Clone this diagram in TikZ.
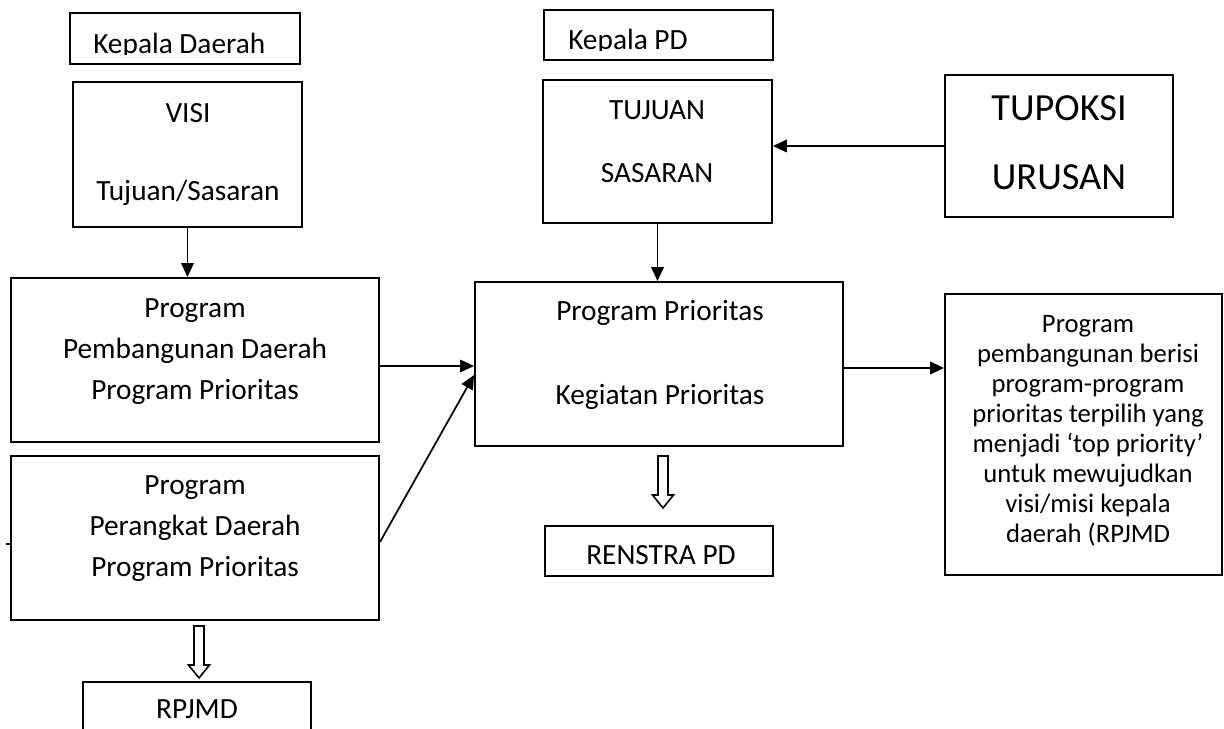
\documentclass[tikz,border=0pt]{standalone}
\usepackage{fontspec}
\setmainfont{Carlito}
\usetikzlibrary{arrows.meta,fit}
\newcommand{\stackl}[2]{\vtop{\baselineskip=#1\lineskiplimit=-100pt\lineskip=0pt\halign{\hfil##\hfil\cr#2\crcr}}}
\begin{document}
\begin{tikzpicture}[x=0.75pt,y=-0.75pt]
\tikzset{
 box/.style={draw=black, line width=1.45pt, inner sep=0pt, rectangle},
 lbl/.style={inner sep=0pt, anchor=base, font=\fontsize{22}{26}\selectfont},
 arr/.style={-{Triangle[length=10.5pt,width=9.5pt]}, line width=1.3pt},
 hollow/.style={draw=black, line width=1.2pt, fill=white, line join=miter},
}
\useasboundingbox (0,0) rectangle (1224,728);
\clip (0,0) rectangle (1224,728);
% boxes
\node[box, fit={(70,13) (300,64)}] (kd) {};
\node[box, fit={(73,82) (302,227)}] (visi) {};
\node[box, fit={(11,278) (379,442)}] (ppd) {};
\node[box, fit={(11,456) (379,620)}] (ppk) {};
\node[box, fit={(83,682) (311,760)}] (rpjmd) {};
\node[box, fit={(544,10) (773,60)}] (kpd) {};
\node[box, fit={(543,80) (772,223)}] (tuj) {};
\node[box, fit={(945,75) (1173,217)}] (tup) {};
\node[box, fit={(475,282) (843,446)}] (mid) {};
\node[box, fit={(545,526) (773,576)}] (ren) {};
\node[box, fit={(945,294) (1222,575)}] (rgt) {};
% texts
\begin{scope}
\clip (60,0) rectangle (310,54);
\node[lbl, anchor=base west] (kdt) at (93,53) {Kepala Daerah};
\end{scope}
\begin{scope}
\clip (540,0) rectangle (780,50);
\node[lbl, anchor=base west] (kpdt) at (568,49) {Kepala PD};
\end{scope}
\node[lbl] (visit) at (188,122) {\stackl{58.5pt}{VISI\cr Tujuan/Sasaran}};
\node[lbl] (ppdt) at (195,317) {\stackl{31.1pt}{Program\cr Pembangunan Daerah\cr Program Prioritas}};
\node[lbl] (ppkt) at (195,494) {\stackl{31.1pt}{Program\cr Perangkat Daerah\cr Program Prioritas}};
\node[lbl] (rpjmdt) at (197,718) {RPJMD};
\node[lbl] (tujt) at (657,119) {\stackl{47.25pt}{TUJUAN\cr SASARAN}};
\node[lbl, font=\fontsize{28.75}{34}\selectfont] (tupt) at (1059,120) {\stackl{51.75pt}{TUPOKSI\cr URUSAN}};
\node[lbl] (midt) at (660,320) {\stackl{63pt}{Program Prioritas\cr Kegiatan Prioritas}};
\node[lbl] (rent) at (661,564) {RENSTRA PD};
\node[lbl, font=\fontsize{20}{22.5}\selectfont] (rgtt) at (1088,332) {\stackl{22.5pt}{Program\cr pembangunan berisi\cr program-program\cr prioritas terpilih yang\cr menjadi ‘top priority’\cr untuk mewujudkan\cr visi/misi kepala\cr daerah (RPJMD}};
% connectors
\draw[arr] (visi.south) -- (visi.south |- ppd.north);
\draw[arr] (tuj.south) -- (tuj.south |- mid.north);
\draw[arr] (tup.west) -- (tup.west -| tuj.east);
\coordinate (a1) at ([yshift=-4.5pt]ppd.east);
\draw[arr] (a1) -- (a1 -| mid.west);
\coordinate (a2) at ([yshift=-3pt]ppk.east);
\coordinate (a3) at ([yshift=-8.25pt]mid.west);
\draw[arr] (a2) -- (a3);
\coordinate (a4) at ([yshift=-3pt]mid.east);
\draw[arr] (a4) -- (a4 -| rgt.west);
% hollow arrows
\draw[hollow] (194,626) -- (204,626) -- (204,665) -- (209.5,665) -- (199,678) -- (188.5,665) -- (194,665) -- cycle;
\draw[hollow] (658,456) -- (668,456) -- (668,495) -- (673.5,495) -- (663,508) -- (652.5,495) -- (658,495) -- cycle;
% small tick
\draw[line width=1pt] (6,544) -- (11,544);
\end{tikzpicture}
\end{document}
